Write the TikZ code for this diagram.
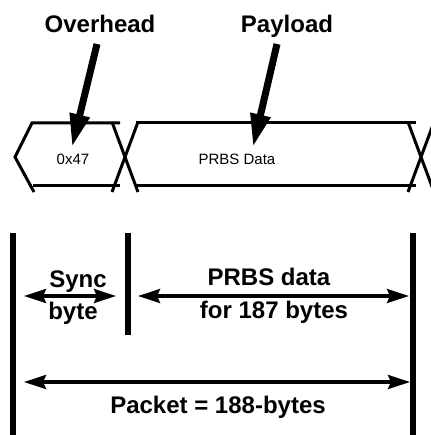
\documentclass[tikz,border=0pt]{standalone}
\usepackage{fontspec}
\setmainfont{Liberation Sans}
\usetikzlibrary{arrows.meta}
\begin{document}
\begin{tikzpicture}[x=1pt,y=-1pt,
  bigtxt/.style={font=\fontsize{24}{28}\selectfont\bfseries, inner sep=0pt, anchor=base},
  smalltxt/.style={font=\fontsize{15}{18}\selectfont, inner sep=0pt, anchor=base},
  tl/.style={line width=3pt, line cap=butt, line join=miter},
  pointer/.style={line width=7pt, -{Triangle[length=33pt,width=19pt]}},
  span/.style={line width=3.4pt, {Stealth[length=22pt,width=14pt,inset=3pt]}-{Stealth[length=22pt,width=14pt,inset=3pt]}},
  bar/.style={line width=5.5pt}]
\useasboundingbox (0,0) rectangle (430,435);
% timeline
\draw[tl] (120,123) -- (32,123) -- (15,157) -- (34,192);
\draw[tl] (33,186) -- (120,186);
\draw[tl] (112,192) -- (138,122);
\draw[tl] (112,122) -- (138,192);
\draw[tl] (136,123) -- (416,123);
\draw[tl] (137,186) -- (416,186);
\draw[tl] (408,192) -- (434,122);
\draw[tl] (408,122) -- (434,192);
% labels top
\node[bigtxt] (oh) at (100,33) {Overhead};
\node[bigtxt] (pl) at (287,33) {Payload};
\node[smalltxt] (sync) at (73,165) {0x47};
\node[smalltxt] (prbs) at (237,165) {PRBS Data};
\coordinate (ohs) at (97,44);
\coordinate (ohtip) at (72,147);
\coordinate (pls) at (277,44);
\coordinate (pltip) at (253,147);
\draw[pointer] (ohs) -- (ohtip);
\draw[pointer] (pls) -- (pltip);
% bars
\coordinate (b1t) at (13,233); \coordinate (b1b) at (13,440);
\coordinate (b2t) at (128,233); \coordinate (b2b) at (128,335);
\coordinate (b3t) at (413,233); \coordinate (b3b) at (413,440);
\draw[bar] (b1t) -- (b1b);
\draw[bar] (b2t) -- (b2b);
\draw[bar] (b3t) -- (b3b);
% spans
\coordinate (s1a) at (24,296); \coordinate (s1b) at (116,296);
\coordinate (s2a) at (138,296); \coordinate (s2b) at (409,296);
\coordinate (s3a) at (24,382); \coordinate (s3b) at (410,382);
\draw[span] (s1a) -- (s1b);
\draw[span] (s2a) -- (s2b);
\draw[span] (s3a) -- (s3b);
\node[bigtxt] (t1) at (78,287) {Sync};
\node[bigtxt] (t2) at (73,319) {byte};
\node[bigtxt] (t3) at (269,285) {PRBS data};
\node[bigtxt] (t4) at (274,318) {for 187 bytes};
\node[bigtxt] (t5) at (218,413) {Packet = 188-bytes};
\end{tikzpicture}
\end{document}
